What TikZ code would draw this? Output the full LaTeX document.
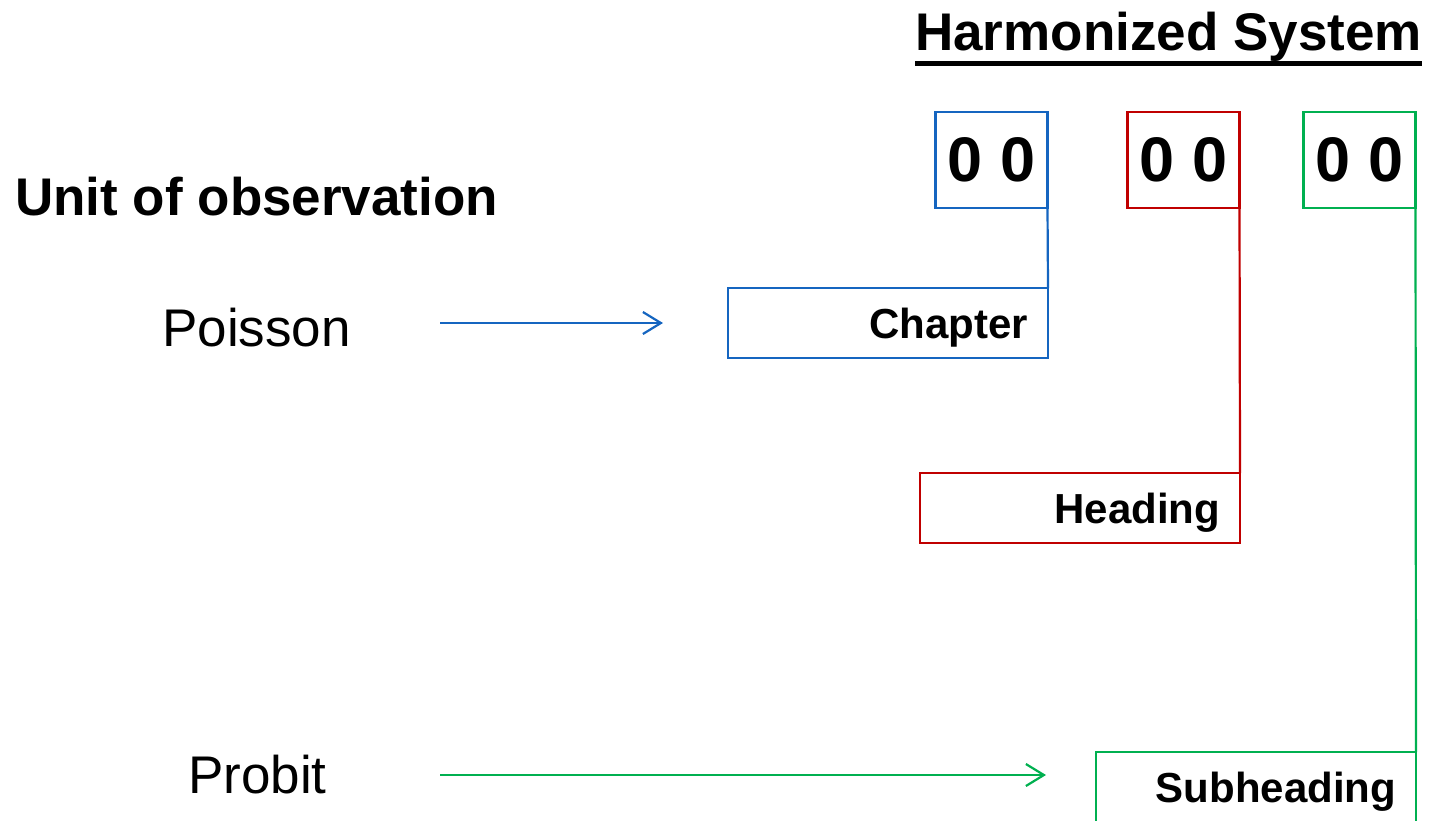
\documentclass[tikz,border=0pt]{standalone}
\usepackage{fontspec}
\setmainfont{Liberation Sans}
\usetikzlibrary{arrows.meta}
\definecolor{hsblue}{RGB}{21,101,192}
\definecolor{hsred}{RGB}{192,0,0}
\definecolor{hsgreen}{RGB}{0,176,80}
\begin{document}
\begin{tikzpicture}[x=1pt,y=-1pt,
  digitbox/.style={draw,line width=2.2pt,outer sep=0pt,minimum width=112pt,minimum height=96pt,inner sep=0pt,
    font=\fontsize{63}{70}\selectfont\bfseries},
  levelbox/.style={draw,line width=2.2pt,outer sep=0pt,text width=280pt,align=right,inner xsep=20pt,inner ysep=0pt,
    minimum height=70pt,text height=32pt,text depth=2pt,font=\fontsize{42}{48}\selectfont\bfseries},
  conn/.style={line width=2.2pt},
  arr/.style={line width=2.2pt,-{Straight Barb[length=18pt,width=22pt]}},
  bigtext/.style={inner sep=0pt,anchor=base west,font=\fontsize{53}{60}\selectfont},
  bigbold/.style={inner sep=0pt,anchor=base west,font=\fontsize{53}{60}\selectfont\bfseries},
]
\useasboundingbox (0,0) rectangle (1431,820);
\clip (0,0) rectangle (1431,820);

% title
\node[bigbold] (hs) at (915,50) {Harmonized System};
\draw[line width=5pt] ([yshift=-13pt]hs.base west) -- ([yshift=-13pt]hs.base east);

% digit boxes
\node[digitbox,hsblue] (d1) at (991.5,160) {\textcolor{black}{0 0}};
\node[digitbox,hsred] (d2) at (1183.5,160) {\textcolor{black}{0 0}};
\node[digitbox,hsgreen] (d3) at (1359.5,160) {\textcolor{black}{0 0}};

% level boxes
\node[levelbox,hsblue] (chap) at (888,323) {\textcolor{black}{Chapter}};
\node[levelbox,hsred] (head) at (1080,508) {\textcolor{black}{Heading}};
\node[levelbox,hsgreen] (sub) at (1256,787) {\textcolor{black}{Subheading}};

% connectors
\draw[conn,hsblue] (d1.south east) -- (chap.north east);
\draw[conn,hsred] (d2.south east) -- (head.north east);
\draw[conn,hsgreen] (d3.south east) -- (sub.north east);

% left texts
\node[bigbold] (unit) at (15,215) {Unit of observation};
\node[bigtext] (poisson) at (162,346) {Poisson};
\node[bigtext] (probit) at (188,793) {Probit};

% arrows
\coordinate (pa) at (440,323);
\coordinate (pb) at (663,323);
\coordinate (qa) at (440,775);
\coordinate (qb) at (1046,775);
\draw[arr,hsblue] (pa) -- (pb);
\draw[arr,hsgreen] (qa) -- (qb);
\end{tikzpicture}
\end{document}
